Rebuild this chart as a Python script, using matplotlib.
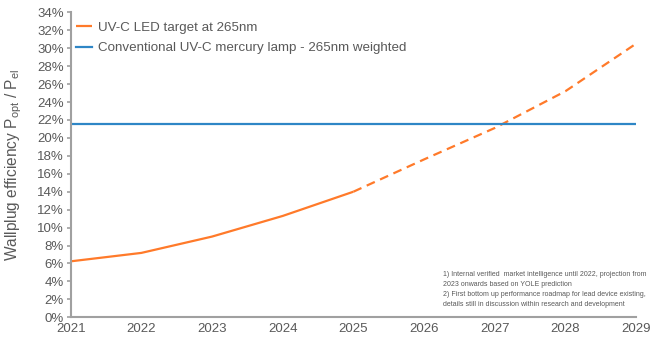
import matplotlib
matplotlib.use("Agg")
import matplotlib.pyplot as plt

plt.rcParams['font.family'] = ['Liberation Sans', 'DejaVu Sans']

# wallplug efficiency of UV-C LEDs, measured up to 2025, roadmap afterwards
years_meas = [2021, 2022, 2023, 2024, 2025]
eff_meas = [0.0624, 0.0718, 0.090, 0.113, 0.140]
years_proj = [2025, 2026, 2027, 2028, 2029]
eff_proj = [0.140, 0.176, 0.211, 0.252, 0.305]

# mercury lamp reference level
mercury_eff = 0.216

year_ticks = list(range(2021, 2030))
pct_ticks = [i / 100 for i in range(0, 35, 2)]

led_label = 'UV-C LED target at 265nm'
hg_label = 'Conventional UV-C mercury lamp - 265nm weighted'
footnote = ('1) Internal verified  market intelligence until 2022, projection from\n'
            '2023 onwards based on YOLE prediction\n'
            '2) First bottom up performance roadmap for lead device existing,\n'
            'details still in discussion within research and development')

orange = '#FF7A2A'
blue = '#2E86C6'
grey_txt = '#595959'
grey_ax = '#A0A0A0'

fig = plt.figure(figsize=(6.51, 3.38), dpi=100)
ax = fig.add_axes([0.1086, 0.0612, 0.8684, 0.9024])

ax.plot(years_meas, eff_meas, color=orange, lw=1.6, label=led_label, solid_capstyle='butt')
ax.plot(years_proj, eff_proj, color=orange, lw=1.6, dashes=(4, 2.6))
ax.axhline(mercury_eff, color=blue, lw=1.6, label=hg_label)

ax.set_xlim(2021, 2029)
ax.set_ylim(0, 0.34)
ax.set_xticks(year_ticks)
ax.set_xticklabels([str(y) for y in year_ticks])
ax.set_yticks(pct_ticks)
ax.set_yticklabels(['%d%%' % round(p * 100) for p in pct_ticks])

for s in ['top', 'right']:
    ax.spines[s].set_visible(False)
for s in ['left', 'bottom']:
    ax.spines[s].set_color(grey_ax)
    ax.spines[s].set_linewidth(1.5)
ax.tick_params(axis='y', length=3, width=1.2, color=grey_ax, labelsize=9.5, labelcolor=grey_txt, pad=2)
ax.tick_params(axis='x', length=0, labelsize=9.5, labelcolor=grey_txt, pad=4)

ax.set_ylabel(r'Wallplug efficiency P$_{\mathregular{opt}}$ / P$_{\mathregular{el}}$',
              fontsize=11.2, color=grey_txt)
ax.yaxis.set_label_coords(-0.082, 0.5)

handles, labels = ax.get_legend_handles_labels()
ax.legend(handles, labels, loc='upper left', frameon=False, fontsize=9.6,
          labelcolor=grey_txt, handlelength=1.2, handletextpad=0.5,
          labelspacing=0.6, bbox_to_anchor=(-0.008, 1.0), borderaxespad=0.3)

fig.text(0.681, 0.197, footnote, fontsize=5.0, color=grey_txt, va='top', ha='left',
         linespacing=1.55)

fig.savefig('out.png', dpi=100)
